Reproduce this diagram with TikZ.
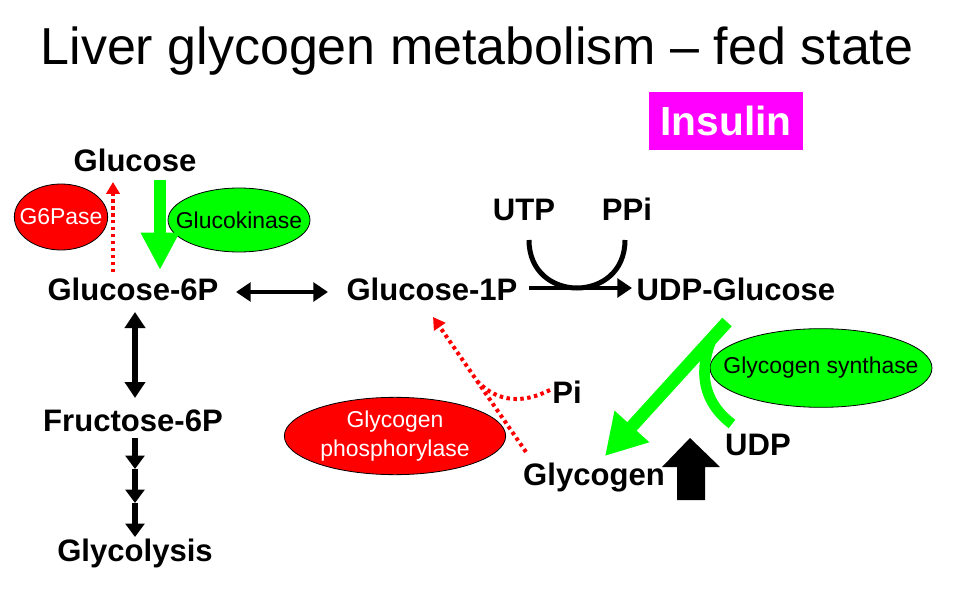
\documentclass[tikz,border=0pt]{standalone}
\usepackage{fontspec}
\setmainfont{Liberation Sans}
\usetikzlibrary{arrows.meta,shapes.geometric}
\definecolor{vgreen}{RGB}{0,255,0}
\definecolor{vred}{RGB}{255,0,0}
\definecolor{vmag}{RGB}{255,0,255}
\begin{document}
\begin{tikzpicture}[x=0.75pt,y=-0.75pt,
  lbl/.style={font=\fontsize{23.3pt}{26pt}\selectfont\bfseries, inner sep=0pt, anchor=base},
  enz/.style={ellipse, draw=black, line width=0.6pt, inner sep=0pt},
  enztxt/.style={inner sep=0pt, align=center, font=\fontsize{17.2pt}{21.5pt}\selectfont},
  redenz/.style={enz, fill=vred},
  greenenz/.style={enz, fill=vgreen},
  blk/.style={draw=black, line width=3pt, -{Triangle[length=11pt,width=14pt]}},
  blkboth/.style={draw=black, line width=3pt, {Triangle[length=11pt,width=14pt]}-{Triangle[length=11pt,width=14pt]}},
  blkvboth/.style={draw=black, line width=4pt, {Triangle[length=12pt,width=15pt]}-{Triangle[length=12pt,width=15pt]}},
  smallblk/.style={draw=black, line width=5pt, -{Triangle[length=10pt,width=14pt]}},
  reddot/.style={draw=vred, line width=3pt, dash pattern=on 2.6pt off 2.6pt},
  reddotarr/.style={reddot, -{Triangle[length=9pt,width=10pt]}},
  greenarr/.style={draw=vgreen, line width=9.5pt}
]
\useasboundingbox (0,0) rectangle (956,595);

% title
\node[inner sep=0pt, anchor=base, font=\fontsize{39pt}{44pt}\selectfont] (title) at (477,65) {Liver glycogen metabolism -- fed state};

% insulin
\node[fill=vmag, text=white, minimum width=115.5pt, minimum height=44pt, inner sep=0pt,
  font=\fontsize{30.5pt}{34pt}\selectfont\bfseries] (ins) at (726,121) {Insulin};

% metabolite labels
\node[lbl] (glc) at (135,172) {Glucose};
\node[lbl] (g6p) at (133,300) {Glucose-6P};
\node[lbl] (g1p) at (432,300) {Glucose-1P};
\node[lbl] (udpg) at (736,300) {UDP-Glucose};
\node[lbl] (utp) at (524,221) {UTP};
\node[lbl] (ppi) at (627,221) {PPi};
\node[lbl] (f6p) at (133,431) {Fructose-6P};
\node[lbl] (gly) at (135,561) {Glycolysis};
\node[lbl] (pi) at (567,403) {Pi};
\node[lbl] (glyc) at (594,485) {Glycogen};
\node[lbl] (udp) at (758,455) {UDP};

% enzymes
\node[redenz, minimum width=70pt, minimum height=49.5pt] (g6pase) at (61,217) {};
\node[enztxt, text=white] (g6pasetxt) at (g6pase.center) {G6Pase};
\node[greenenz, minimum width=106.5pt, minimum height=48pt] (gk) at (239,220) {};
\node[enztxt] (gktxt) at (gk.center) {Glucokinase};
\node[redenz, minimum width=166pt, minimum height=58pt] (gp) at (395,436) {};
\node[enztxt, text=white] (gptxt) at (gp.center) {Glycogen\\phosphorylase};
\node[greenenz, minimum width=166.5pt, minimum height=59pt] (gs) at (821,368) {};
\node[enztxt] (gstxt) at (gs.center) {Glycogen synthase};

% glucose <-> glucose-6P
\coordinate (g6pup) at (113,272);
\coordinate (glcdn) at (113,182);
\draw[reddotarr] (g6pup) -- (glcdn);
\draw[greenarr, -{Triangle[length=28pt,width=27pt]}] (160,180) -- (160,270);

% G6P <-> G1P
\draw[blkboth] (236,292) -- (328,292);

% G1P -> UDP-glucose with UTP/PPi
\draw[blk] (529,288) -- (632,288);
\coordinate (utpend) at (529,240);
\coordinate (ppiend) at (625,240);
\draw[black, line width=3.75pt] (utpend) .. controls (529,304) and (625,304) .. (ppiend);

% left column
\draw[blkvboth] (135,312) -- (135,398);
\draw[smallblk] (135,438) -- (135,469);
\draw[smallblk] (135,469) -- (135,503);
\draw[smallblk] (135,503) -- (135,537);

% glycogen phosphorylase path
\coordinate (glycst) at (526,452);
\coordinate (g1ptip) at (433,317);
\coordinate (pist) at (550,390);
\draw[reddotarr] (glycst) -- (g1ptip);
\draw[reddot] (pist) .. controls (522,404) and (498,402) .. (478,382);

% glycogen synthase path
\draw[greenarr, -{Triangle[length=30pt,width=33pt]}] (727,322) -- (605,456);
\draw[draw=vgreen, line width=8pt] (712,338) .. controls (698,372) and (703,402) .. (732,424);

% insulin effect block arrow
\fill[black] (677,500) -- (677,467) -- (662,467) -- (690,438) -- (720,467) -- (705,467) -- (705,500) -- cycle;
\end{tikzpicture}
\end{document}
